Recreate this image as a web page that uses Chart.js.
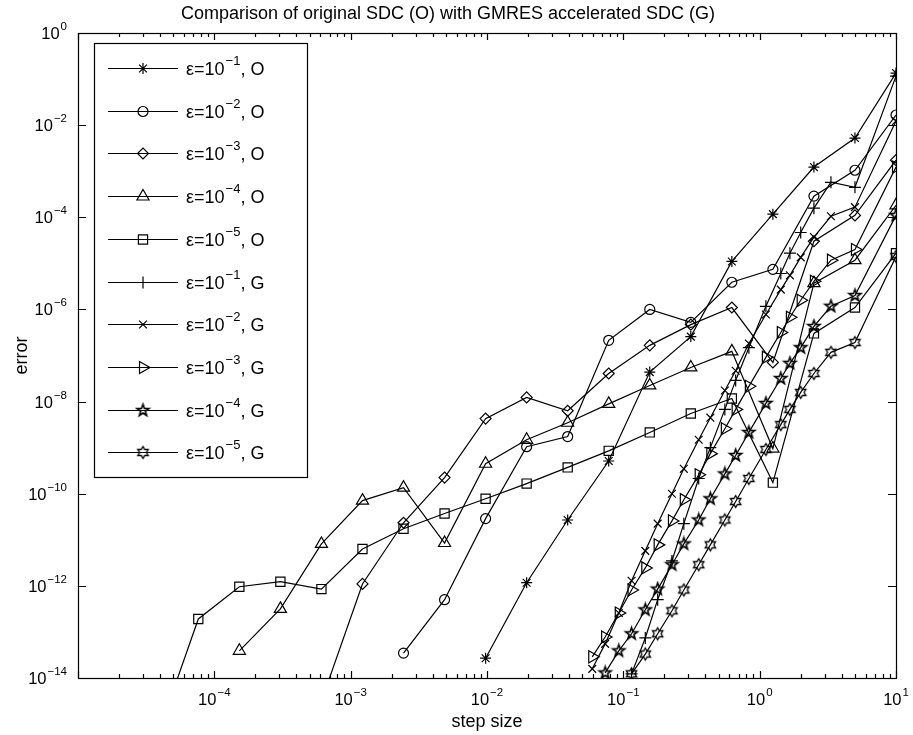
<!DOCTYPE html>
<html>
<head>
<meta charset="utf-8">
<title>Comparison of original SDC (O) with GMRES accelerated SDC (G)</title>
<script src="https://cdn.jsdelivr.net/npm/chart.js@4.4.0/dist/chart.umd.min.js"></script>
<style>
  html, body { margin: 0; padding: 0; background: #fff; }
  #wrap { width: 913px; height: 735px; }
</style>
</head>
<body>
<div id="wrap"><canvas id="errChart" width="913" height="735"></canvas></div>
<script>
// step sizes: original SDC halves the step, GMRES runs use 10/n
const stepO = [10, 5, 2.5, 1.25, 0.625, 0.3125, 0.15625, 0.078125, 0.0390625, 0.01953125,
  0.009765625, 0.0048828125, 0.00244140625, 0.001220703125, 0.0006103515625,
  0.00030517578125, 0.000152587890625, 0.0000762939453125, 0.00003814697265625];
const stepG = [10, 5, 3.333, 2.5, 2, 1.667, 1.429, 1.111, 0.8333, 0.6667, 0.5556,
  0.4348, 0.3571, 0.2778, 0.2273, 0.1786, 0.1449, 0.1149, 0.09259, 0.07353, 0.05917];

// errors, original SDC (O)
const errO1 = [1.35e-1, 5.25e-3, 1.23e-3, 1.17e-4, 1.10e-5, 2.57e-7, 4.37e-8, 5.13e-10, 2.69e-11, 1.17e-12, 2.69e-14];
const errO2 = [1.66e-2, 1.05e-3, 2.88e-4, 7.41e-6, 3.89e-6, 5.25e-7, 1.0e-6, 2.14e-7, 1.74e-9, 1.05e-9, 2.88e-11, 5.01e-13, 3.47e-14];
const errO3 = [1.74e-3, 1.10e-4, 3.02e-5, 7.08e-8, 1.10e-6, 4.68e-7, 1.66e-7, 4.07e-8, 6.31e-9, 1.23e-8, 4.27e-9, 2.24e-10, 2.34e-11, 1.10e-12, 3.16e-15];
const errO4 = [1.82e-4, 1.17e-5, 3.72e-6, 9.55e-10, 1.23e-7, 5.50e-8, 2.24e-8, 8.91e-9, 3.47e-9, 1.48e-9, 4.47e-10, 8.51e-12, 1.35e-10, 7.08e-11, 8.13e-12, 3.16e-13, 3.89e-14];
const errO5 = [1.66e-5, 1.10e-6, 3.02e-7, 1.74e-10, 1.17e-8, 5.50e-9, 2.14e-9, 8.51e-10, 3.72e-10, 1.66e-10, 7.76e-11, 3.72e-11, 1.74e-11, 6.31e-12, 8.51e-13, 1.23e-12, 9.55e-13, 1.91e-13, 5.5e-16];

// errors, GMRES accelerated SDC (G)
const errG1 = [1.16e-1, 4.47e-4, 5.75e-4, 1.58e-4, 4.68e-5, 1.66e-5, 6.03e-6, 1.17e-6, 1.48e-7, 2.88e-8, 6.76e-9, 1.0e-9, 2.14e-10, 2.24e-11, 3.47e-12, 5.01e-13, 7.41e-14, 1.23e-14];
const errG2 = [1.23e-2, 1.66e-4, 1.05e-4, 3.72e-5, 1.35e-5, 5.50e-6, 2.69e-6, 7.76e-7, 1.82e-7, 4.68e-8, 1.74e-8, 4.47e-9, 1.48e-9, 3.47e-10, 1.0e-10, 2.24e-11, 5.75e-12, 1.29e-12, 2.57e-13, 5.50e-14, 1.58e-14];
const errG3 = [1.23e-3, 2.0e-5, 1.17e-5, 4.07e-6, 1.58e-6, 6.76e-7, 3.16e-7, 9.12e-8, 2.14e-8, 6.76e-9, 2.57e-9, 7.41e-10, 2.57e-10, 7.41e-11, 2.57e-11, 7.76e-12, 2.45e-12, 8.13e-13, 2.57e-13, 7.76e-14, 2.88e-14];
const errG4 = [1.10e-4, 2.0e-6, 1.17e-6, 4.27e-7, 1.48e-7, 6.76e-8, 3.16e-8, 9.12e-9, 2.14e-9, 6.76e-10, 2.69e-10, 7.76e-11, 2.69e-11, 8.13e-12, 2.88e-12, 8.51e-13, 3.02e-13, 9.12e-14, 3.89e-14, 1.29e-14];
const errG5 = [1.41e-5, 1.91e-7, 1.17e-7, 4.07e-8, 1.58e-8, 6.76e-9, 3.16e-9, 9.12e-10, 2.14e-10, 6.76e-11, 2.69e-11, 7.76e-12, 2.88e-12, 8.13e-13, 2.88e-13, 9.12e-14, 3.31e-14, 1.23e-14];

// legend entries: epsilon exponent and method tag
const epsExp = [-1, -2, -3, -4, -5, -1, -2, -3, -4, -5];
const methodTag = ['O', 'O', 'O', 'O', 'O', 'G', 'G', 'G', 'G', 'G'];

// tick labels (powers of ten)
const xLabelExp = [-4, -3, -2, -1, 0, 1];
const yLabelExp = [0, -2, -4, -6, -8, -10, -12, -14];
const xDecades = [-5, -4, -3, -2, -1, 0];
const xMinorMant = [2, 3, 4, 5, 6, 7, 8, 9];

const FONT = "'Liberation Sans', Arial, Helvetica, sans-serif";

function makeStar(nPts, rOut, rIn, lw) {
  const c = document.createElement('canvas');
  c.width = 17; c.height = 17;
  const g = c.getContext('2d');
  g.strokeStyle = '#000';
  g.lineWidth = lw;
  g.lineJoin = 'miter';
  g.beginPath();
  for (let k = 0; k < nPts * 2; k++) {
    const r = k % 2 === 0 ? rOut : rIn;
    const ang = -Math.PI / 2 + k * Math.PI / nPts;
    const px = 8.5 + r * Math.cos(ang), py = 8.5 + r * Math.sin(ang);
    if (k === 0) g.moveTo(px, py); else g.lineTo(px, py);
  }
  g.closePath();
  g.stroke();
  return c;
}

const pentagram = makeStar(5, 6.2, 2.5, 1.6);
const hexagram = makeStar(6, 6, 3.46, 1.3);

const markers = [
  { style: 'star', r: 5.5, rot: 0 },
  { style: 'circle', r: 5, rot: 0 },
  { style: 'rectRot', r: 5.5, rot: 0 },
  { style: 'triangle', r: 7, rot: 0 },
  { style: 'rect', r: 6.5, rot: 0 },
  { style: 'cross', r: 6, rot: 0 },
  { style: 'crossRot', r: 5.5, rot: 0 },
  { style: 'triangle', r: 7, rot: 90 },
  { style: pentagram, r: 6, rot: 0 },
  { style: hexagram, r: 6, rot: 0 }
];

const errSets = [errO1, errO2, errO3, errO4, errO5, errG1, errG2, errG3, errG4, errG5];

function expStr(e) { return e < 0 ? '\u2212' + (-e) : String(e); }

const datasets = errSets.map((err, i) => {
  const steps = i < 5 ? stepO : stepG;
  return {
    label: 'ε=10^' + epsExp[i] + ', ' + methodTag[i],
    data: err.map((v, k) => ({ x: steps[k], y: v })),
    showLine: true,
    borderColor: '#000',
    borderWidth: 1.2,
    pointStyle: markers[i].style,
    pointRadius: markers[i].r,
    pointRotation: markers[i].rot,
    pointBorderColor: '#000',
    pointBackgroundColor: 'rgba(0,0,0,0)',
    pointBorderWidth: 1.2,
    tension: 0
  };
});

// "10" with a raised exponent
function drawPow(ctx, e, x, y, align, baseSize, expSize, rise) {
  ctx.font = baseSize + 'px ' + FONT;
  const wb = ctx.measureText('10').width;
  ctx.font = expSize + 'px ' + FONT;
  const es = expStr(e);
  const we = ctx.measureText(es).width;
  const tot = wb + we + 1;
  let x0 = x;
  if (align === 'center') x0 = x - tot / 2;
  else if (align === 'right') x0 = x - tot;
  ctx.textAlign = 'left';
  ctx.textBaseline = 'alphabetic';
  ctx.font = baseSize + 'px ' + FONT;
  ctx.fillText('10', x0, y);
  ctx.font = expSize + 'px ' + FONT;
  ctx.fillText(es, x0 + wb + 1, y - rise);
}

const frame = {
  id: 'frame',
  afterDatasetsDraw(chart) {
    const { ctx, chartArea: a, scales: { x, y } } = chart;
    ctx.save();
    ctx.strokeStyle = '#000';
    ctx.fillStyle = '#000';
    ctx.lineWidth = 1.2;
    ctx.strokeRect(Math.round(a.left) + 0.5, Math.round(a.top) + 0.5,
      Math.round(a.right - a.left), Math.round(a.bottom - a.top));

    ctx.beginPath();
    x.ticks.forEach(t => {
      const px = Math.round(x.getPixelForValue(t.value)) + 0.5;
      const len = t.major ? 7 : 4;
      ctx.moveTo(px, a.bottom); ctx.lineTo(px, a.bottom - len);
      ctx.moveTo(px, a.top); ctx.lineTo(px, a.top + len);
    });
    y.ticks.forEach(t => {
      const py = Math.round(y.getPixelForValue(t.value)) + 0.5;
      ctx.moveTo(a.left, py); ctx.lineTo(a.left + 8, py);
      ctx.moveTo(a.right, py); ctx.lineTo(a.right - 8, py);
    });
    ctx.stroke();

    xLabelExp.forEach(e => {
      const px = x.getPixelForValue(Math.pow(10, e));
      drawPow(ctx, e, px, a.bottom + 27, 'center', 16.5, 11.5, 9);
    });
    yLabelExp.forEach(e => {
      const py = y.getPixelForValue(Math.pow(10, e));
      drawPow(ctx, e, a.left - 11, py + 6, 'right', 16.5, 11.5, 9);
    });

    // legend box
    const L = { x: a.left + 16, y: a.top + 10, w: 213, h: 434 };
    ctx.fillStyle = '#fff';
    ctx.fillRect(L.x, L.y, L.w, L.h);
    ctx.strokeRect(Math.round(L.x) + 0.5, Math.round(L.y) + 0.5, L.w, L.h);
    const helpers = Chart.helpers;
    datasets.forEach((ds, i) => {
      const cy = Math.round(L.y + 25 + i * 42.7) + 0.5;
      ctx.strokeStyle = '#000';
      ctx.lineWidth = 1.2;
      ctx.beginPath();
      ctx.moveTo(L.x + 14, cy); ctx.lineTo(L.x + 84, cy);
      ctx.stroke();
      ctx.fillStyle = 'rgba(0,0,0,0)';
      helpers.drawPoint(ctx, {
        pointStyle: markers[i].style, radius: markers[i].r,
        rotation: markers[i].rot, borderWidth: 1.2
      }, L.x + 49, cy);
      ctx.fillStyle = '#000';
      ctx.textAlign = 'left';
      ctx.textBaseline = 'alphabetic';
      const tx = L.x + 92, by = cy + 6.5;
      ctx.font = '18px ' + FONT;
      ctx.fillText('ε=10', tx, by);
      const w1 = ctx.measureText('ε=10').width;
      ctx.font = '13px ' + FONT;
      const es = expStr(epsExp[i]);
      ctx.fillText(es, tx + w1 + 1, by - 10);
      const w2 = ctx.measureText(es).width;
      ctx.font = '18px ' + FONT;
      ctx.fillText(', ' + methodTag[i], tx + w1 + w2 + 1, by);
    });
    ctx.restore();
  }
};

const xTicks = [];
xDecades.forEach(d => {
  xTicks.push({ value: Math.pow(10, d), major: true });
  xMinorMant.forEach(m => xTicks.push({ value: m * Math.pow(10, d), major: false }));
});
xTicks.push({ value: 10, major: true });

new Chart(document.getElementById('errChart'), {
  type: 'scatter',
  data: { datasets: datasets },
  options: {
    responsive: false,
    animation: false,
    devicePixelRatio: 1,
    events: [],
    layout: { padding: { left: 0, right: 17, top: 0, bottom: 0 } },
    plugins: {
      legend: { display: false },
      tooltip: { enabled: false },
      title: {
        display: true,
        text: 'Comparison of original SDC (O) with GMRES accelerated SDC (G)',
        color: '#000',
        font: { family: FONT, size: 18, weight: 'normal', lineHeight: 1.2 },
        padding: { top: 3, bottom: 8.4 }
      }
    },
    scales: {
      x: {
        type: 'logarithmic',
        position: 'bottom',
        min: 1e-5,
        max: 10,
        grid: { display: false, drawTicks: false },
        border: { display: false },
        ticks: { display: false },
        afterBuildTicks: s => { s.ticks = xTicks.map(t => ({ value: t.value, major: t.major })); },
        afterFit: s => { s.height = 57; },
        title: {
          display: true, text: 'step size', color: '#000',
          font: { family: FONT, size: 18, lineHeight: 1.2 },
          padding: { top: 0, bottom: 2 }
        }
      },
      y: {
        type: 'logarithmic',
        position: 'left',
        min: 1e-14,
        max: 1,
        grid: { display: false, drawTicks: false },
        border: { display: false },
        ticks: { display: false },
        afterBuildTicks: s => { s.ticks = yLabelExp.map(e => ({ value: Math.pow(10, e), major: true })); },
        afterFit: s => { s.width = 78; },
        title: {
          display: true, text: 'error', color: '#000',
          font: { family: FONT, size: 18, lineHeight: 1.2 },
          padding: { top: 11, bottom: 0 }
        }
      }
    }
  },
  plugins: [frame]
});
</script>
</body>
</html>
